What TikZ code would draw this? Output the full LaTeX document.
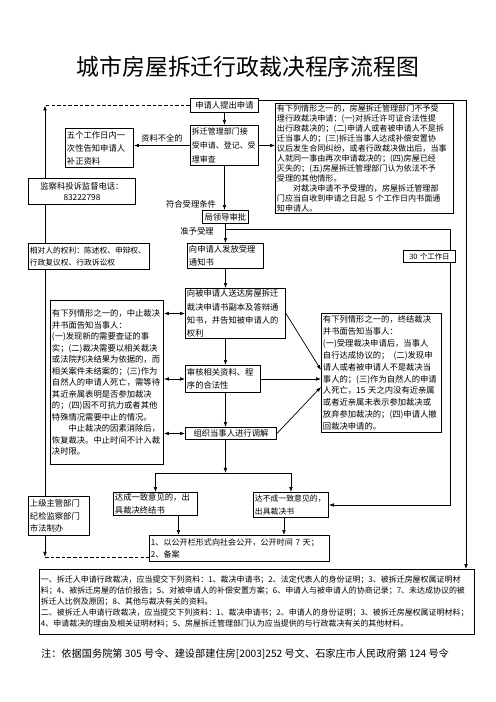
\documentclass[tikz,border=0pt]{standalone}
\usepackage{fontspec}
\setmainfont{Noto Sans CJK SC}
\usepackage{tikz}
\usetikzlibrary{arrows.meta, calc, backgrounds}

\begin{document}
\begin{tikzpicture}[
    x=0.3mm, y=-0.3mm,
    >={Latex[length=1.5mm, width=1.1mm]},
    % ---- 方框样式 ----
    box/.style={
        draw,
        fill=white,
        line width=0.8pt,
        anchor=north west,
        align=left,
        inner xsep=0.45mm,
        inner ysep=0.3mm,
        font=\fontsize{7.1pt}{11.3pt}\selectfont
    },
    % ---- 方框尺寸 (px) ----
    sz/.style 2 args={
        minimum width=#1*0.3mm,
        minimum height=#2*0.3mm,
        text width=#1*0.3mm-0.9mm
    },
    % ---- 连线 ----
    rel/.style={line width=0.6pt, ->},
    link/.style={line width=0.6pt},
    dashline/.style={line width=0.6pt, dash pattern=on 3pt off 1.8pt},
    % ---- 线旁文字 ----
    lbl/.style={font=\fontsize{7.1pt}{8pt}\selectfont, inner sep=1pt}
]

% ---- 段首缩进 ----
\newcommand{\indt}{\hspace*{2em}}

\useasboundingbox (0,0) rectangle (496,702);

\node[font=\fontsize{19.5pt}{22pt}\selectfont] (Title) at (248,67)
    {城市房屋拆迁行政裁决程序流程图};

% ---------- 申请、受理审查 ----------
\node[box, sz={68}{14}, align=center] (Apply) at (190,98) {申请人提出申请};

\node[box, sz={178}{110}, font=\fontsize{6.9pt}{8.5pt}\selectfont] (Reject) at (275,103) {
    有下列情形之一的，房屋拆迁管理部门不予受\\
    理行政裁决申请：(一)对拆迁许可证合法性提\\
    出行政裁决的；(二)申请人或者被申请人不是拆\\
    迁当事人的；(三)拆迁当事人达成补偿安置协\\
    议后发生合同纠纷，或者行政裁决做出后，当事\\
    人就同一事由再次申请裁决的；(四)房屋已经\\
    灭失的；(五)房屋拆迁管理部门认为依法不予\\
    受理的其他情形。\\
    \indt 对裁决申请不予受理的，房屋拆迁管理部\\
    门应当自收到申请之日起 5 个工作日内书面通\\
    知申请人。
};

\node[box, sz={68}{40}, font=\fontsize{6.8pt}{12pt}\selectfont] (Accept) at (190,125) {
    拆迁管理部门接\\
    受申请、登记、受\\
    理审查
};

\node[box, sz={68}{39}, font=\fontsize{7.1pt}{11.1pt}\selectfont] (Supp) at (65,128) {
    五个工作日内一\\
    次性告知申请人\\
    补正资料
};

\node[box, sz={107}{26}, align=center, font=\fontsize{7.1pt}{9.1pt}\selectfont] (Phone) at (28,178) {
    监察科投诉监督电话：\\
    83222798
};

\node[box, sz={46}{13}, align=center] (Approve) at (202,210) {局领导审批};

% ---------- 受理通知、权利 ----------
\node[box, sz={121}{26}, font=\fontsize{6.6pt}{10pt}\selectfont] (Rights) at (28,243) {
    相对人的权利：陈述权、申辩权、\\
    行政复议权、行政诉讼权
};

\node[box, sz={76}{25}] (Notice) at (187,243) {
    向申请人发放受理\\
    通知书
};

\node[box, sz={52}{12}, align=center, font=\fontsize{6.3pt}{7pt}\selectfont] (Days) at (403,250) {30 个工作日};

% ---------- 审理 ----------
\node[box, sz={100}{50}] (Serve) at (185,288) {
    向被申请人送达房屋拆迁\\
    裁决申请书副本及答辩通\\
    知书，并告知被申请人的\\
    权利
};

\node[box, sz={113}{164}, font=\fontsize{7.1pt}{9.8pt}\selectfont] (Suspend) at (50,300) {
    有下列情形之一的，中止裁决\\
    并书面告知当事人：\\
    (一)发现新的需要查证的事\\
    实；(二)裁决需要以相关裁决\\
    或法院判决结果为依据的，而\\
    相关案件未结案的；(三)作为\\
    自然人的申请人死亡，需等待\\
    其近亲属表明是否参加裁决\\
    的；(四)因不可抗力或者其他\\
    特殊情况需要中止的情况。\\
    \indt 中止裁决的因素消除后，\\
    恢复裁决。中止时间不计入裁\\
    决时限。
};

\node[box, sz={120}{119}, font=\fontsize{7.1pt}{10.1pt}\selectfont] (Terminate) at (321,313) {
    有下列情形之一的，终结裁决\\
    并书面告知当事人：\\
    (一)受理裁决申请后，当事人\\
    自行达成协议的；\hspace{0.5em}(二)发现申\\
    请人或者被申请人不是裁决当\\
    事人的；(三)作为自然人的申请\\
    人死亡，15 天之内没有近亲属\\
    或者近亲属未表示参加裁决或\\
    放弃参加裁决的；(四)申请人撤\\
    回裁决申请的。
};

\node[box, sz={75}{27}] (Review) at (185,365) {
    审核相关资料、程\\
    序的合法性
};

\node[box, sz={91}{12}, align=center] (Mediate) at (185,427) {组织当事人进行调解};

% ---------- 调解结果 ----------
\node[box, sz={84}{23}] (Agree) at (113,492) {
    达成一致意见的，出\\
    具裁决终结书
};

\node[box, sz={75}{25}, font=\fontsize{6.7pt}{11.3pt}\selectfont] (Disagree) at (253,492) {
    达不成一致意见的，\\
    出具裁决书
};

\node[box, sz={61}{39}, font=\fontsize{7.1pt}{10.4pt}\selectfont] (Superior) at (28,496) {
    上级主管部门\\
    纪检监察部门\\
    市法制办
};

\node[box, sz={180}{26}, font=\fontsize{6.9pt}{10.5pt}\selectfont] (Publish) at (149,535) {
    1、以公开栏形式向社会公开，公开时间 7 天；\\
    2、备案
};

% ---------- 申请材料 ----------
\node[box, sz={435}{65}, font=\fontsize{6.8pt}{9.3pt}\selectfont] (Docs) at (39,569) {
    一、拆迁人申请行政裁决，应当提交下列资料：1、裁决申请书；2、法定代表人的身份证明；3、被拆迁房屋权属证明材\\
    料；4、被拆迁房屋的估价报告；5、对被申请人的补偿安置方案；6、申请人与被申请人的协商记录；7、未达成协议的被\\
    拆迁人比例及原因；8、其他与裁决有关的资料。\\
    二、被拆迁人申请行政裁决，应当提交下列资料：1、裁决申请书；2、申请人的身份证明；3、被拆迁房屋权属证明材料；\\
    4、申请裁决的理由及相关证明材料；5、房屋拆迁管理部门认为应当提供的与行政裁决有关的其他材料。
};

\node[font=\fontsize{8.7pt}{10pt}\selectfont] (Note) at (245,654)
    {注：依据国务院第 305 号令、建设部建住房[2003]252 号文、石家庄市人民政府第 124 号令};

% ---- 线旁文字 ----
\node[lbl] (LblMissing) at (162,138) {资料不全的};
\node[lbl] (LblMeet) at (191,204) {符合受理条件};
\node[lbl] (LblGrant) at (197,231) {准予受理};

% ============================================================
%  连线
% ============================================================
\begin{scope}[on background layer]

\coordinate (LeftX) at (45,0);
\coordinate (RightX) at (466,0);
\coordinate (LimitX) at (450,0);

% 左侧：监督、复议
\coordinate (LeftTop) at (Apply.west -| LeftX);
\coordinate (PubIn) at ($(Publish.south west)+(0,-5)$);
\coordinate (LeftBot) at (PubIn -| LeftX);
\draw[dashline] (Apply.west) -- (LeftTop);
\draw[link, <->] (LeftTop) -- (LeftBot);
\draw[dashline] (LeftBot) -- (PubIn);

% 申请 ── 申请材料
\draw[rel] ($(Apply.north east)+(0,2)$) -| (Docs.north -| RightX);

% 受理审查
\draw[rel] (Apply.south) -- (Apply.south |- Accept.north);
\draw[rel] (Accept.east) -- (Accept.east -| Reject.west);
\draw[rel] (Accept.west) -- (Accept.west -| Supp.east);
\draw[rel] (Accept.south) -- (Accept.south |- Approve.north);
\draw[rel] (Approve.south) -- (Approve.south |- Notice.north);

% 30 个工作日
\coordinate (LimitStart) at ($(Approve.south)!0.3!(Notice.north)$);
\draw[rel] (LimitStart) -- (LimitStart -| LimitX) |- (Disagree.east);

% 审理主线
\draw[rel] (Notice.south) -- (Notice.south |- Serve.north);
\draw[rel] (Notice.south |- Serve.south) -- (Notice.south |- Review.north);
\draw[rel] (Notice.south |- Review.south) -- (Notice.south |- Mediate.north);
\coordinate (Split) at ($(Notice.south |- Mediate.south)+(0,33)$);
\draw[rel] (Notice.south |- Mediate.south) -- (Split);
\draw[rel] (Split) -| (Agree.north);
\draw[rel] (Split) -| (Disagree.north);

% 中止裁决
\draw[link, <->] (Serve.west -| Suspend.east) -- (Serve.west);
\draw[link, <->] (Review.west -| Suspend.east) -- (Review.west);
\draw[link, <->] (Mediate.west -| Suspend.east) -- (Mediate.west);

% 终结裁决
\draw[rel] (Serve.east) -- ($(Terminate.west)+(0,-3)$);
\draw[rel] (Review.east) -- (Review.east -| Terminate.west);
\draw[rel] (Mediate.east) -- ($(Terminate.west)+(0,14)$);

% 公开、备案
\coordinate (AgreeOut) at ($(Agree.south)+(23,0)$);
\coordinate (DisagreeOut) at ($(Disagree.south)+(-7,0)$);
\draw[rel] (AgreeOut) -- (AgreeOut |- Publish.north);
\draw[rel] (DisagreeOut) -- (DisagreeOut |- Publish.north);

\end{scope}

\end{tikzpicture}
\end{document}
